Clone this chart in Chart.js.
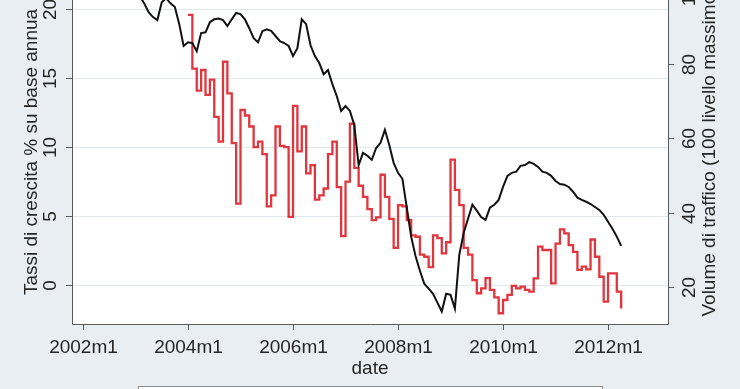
<!DOCTYPE html>
<html><head><meta charset="utf-8">
<script src="https://cdn.jsdelivr.net/npm/chart.js@4"></script>
<style>
html,body{margin:0;padding:0;background:#e8eef1;overflow:hidden;width:740px;height:389px;}
#wrap{position:absolute;left:0;top:-40px;width:740px;height:429px;}
</style></head><body>
<div id="wrap"><canvas id="c" width="740" height="429"></canvas></div>
<script>
// ---- data ----
const xTickLabels = ['2002m1','2004m1','2006m1','2008m1','2010m1','2012m1'];
const xTickMonths = [0, 24, 48, 72, 96, 120];      // months since 2002m1
const leftTicks = [0, 5, 10, 15, 20];
const rightTicks = [20, 40, 60, 80, 100];
const leftTitle = 'Tassi di crescita % su base annua';
const rightTitle = 'Volume di traffico (100 livello massimo)';
const xTitle = 'date';

// traffic volume index (right axis), monthly from 2003m1
const trafficStart = 12;
const traffic = [
 100.0, 98.3, 96.4, 94.0, 92.7, 91.9, 96.7, 97.8, 96.4, 95.4, 90.8, 84.9,
 85.9, 85.7, 83.5, 88.4, 88.6, 91.3, 92.1, 92.3, 91.9, 90.3, 92.1, 93.8,
 93.5, 92.1, 89.7, 87.0, 85.9, 88.9, 89.4, 89.0, 87.6, 86.2, 85.7, 84.9,
 82.2, 84.3, 92.1, 90.8, 85.1, 82.2, 80.3, 77.3, 78.4, 74.6, 71.4, 67.4,
 68.7, 67.4, 63.6, 52.8, 56.1, 55.3, 54.2, 57.4, 58.8, 62.3, 58.2, 53.4,
 50.7, 49.1, 41.3, 33.5, 28.3, 24.3, 20.8, 19.5, 18.1, 15.7, 13.3, 18.1,
 17.8, 14.1, 28.6, 34.5, 38.3, 42.1, 40.5, 38.8, 38.0, 41.3, 42.1, 43.4,
 46.9, 49.9, 50.7, 51.0, 52.6, 52.8, 53.6, 53.1, 52.3, 51.0, 50.7, 49.9,
 48.5, 47.7, 47.5, 46.9, 45.6, 44.0, 43.4, 42.9, 42.3, 41.5, 40.7, 39.4,
 37.5, 35.6, 33.5, 31.0
];

// annual growth rate % (left axis), monthly from 2004m1
const growthStart = 24;
const growth = [
 19.6, 15.7, 14.1, 15.6, 13.8, 14.9, 12.2, 10.4, 16.2, 13.9, 10.3, 5.9,
 12.7, 12.3, 11.5, 10.0, 10.4, 9.5, 5.7, 6.5, 11.5, 10.1, 10.0, 4.95,
 13.0, 9.7, 11.5, 8.1, 8.7, 6.2, 6.5, 7.0, 9.5, 10.4, 7.1, 3.55,
 7.5, 11.7, 8.5, 7.2, 6.4, 5.5, 4.7, 4.9, 8.0, 6.4, 4.8, 2.7,
 5.8, 5.7, 4.7, 3.6, 3.5, 2.2, 2.05, 1.3, 3.6, 3.4, 2.3, 3.1,
 9.1, 6.9, 5.8, 2.7, 2.2, 0.36, -0.6, -0.24, 0.5, -0.36, -0.9, -2.05,
 -1.09, -0.72, -0.07, -0.24, -0.12, -0.36, -0.48, 0.48, 2.78, 2.54, 2.54, 0.12,
 3.0, 4.04, 3.75, 2.9, 2.4, 1.09, 1.33, 1.14, 3.3, 2.05, 0.6, -1.2,
 0.85, 0.85, -0.48, -1.7
];

const trafficPts = traffic.map((v, i) => ({x: trafficStart + i, y: v}));
const growthPts = growth.map((v, i) => ({x: growthStart + i, y: v}));

const FONT = '19px "Liberation Sans", Arial, sans-serif';
const TXT = '#262626';

function rotText(ctx, t, x, y) {
  ctx.save(); ctx.translate(x, y); ctx.rotate(-Math.PI / 2);
  ctx.fillText(t, 0, 0); ctx.restore();
}

const stataPlugin = {
  id: 'stata',
  beforeDatasetsDraw(chart) {
    const {ctx, chartArea: a, scales} = chart;
    ctx.save();
    ctx.fillStyle = '#ffffff';
    ctx.fillRect(a.left, a.top, a.right - a.left, a.bottom - a.top);
    ctx.strokeStyle = '#e2e8eb'; ctx.lineWidth = 1.2;
    leftTicks.forEach(v => {
      const y = Math.round(scales.yL.getPixelForValue(v)) + 0.5;
      ctx.beginPath(); ctx.moveTo(a.left, y); ctx.lineTo(a.right, y); ctx.stroke();
    });
    ctx.restore();
  },
  afterDatasetsDraw(chart) {
    const {ctx, chartArea: a, scales} = chart;
    ctx.save();
    ctx.strokeStyle = '#5a5a5a'; ctx.lineWidth = 1;
    ctx.beginPath();
    ctx.moveTo(a.left + 0.5, a.top); ctx.lineTo(a.left + 0.5, a.bottom + 0.5);
    ctx.lineTo(a.right + 0.5, a.bottom + 0.5); ctx.lineTo(a.right + 0.5, a.top);
    ctx.stroke();
    ctx.fillStyle = TXT; ctx.font = FONT;
    ctx.textAlign = 'center'; ctx.textBaseline = 'middle';
    leftTicks.forEach(v => {
      const y = Math.round(scales.yL.getPixelForValue(v)) + 0.5;
      ctx.beginPath(); ctx.moveTo(a.left - 6, y); ctx.lineTo(a.left, y); ctx.stroke();
      rotText(ctx, String(v), a.left - 21, y);
    });
    rightTicks.forEach(v => {
      const y = Math.round(scales.yR.getPixelForValue(v)) + 0.5;
      ctx.beginPath(); ctx.moveTo(a.right, y); ctx.lineTo(a.right + 6, y); ctx.stroke();
      rotText(ctx, String(v), a.right + 22, y);
    });
    xTickMonths.forEach((m, i) => {
      const x = Math.round(scales.x.getPixelForValue(m)) + 0.5;
      ctx.beginPath(); ctx.moveTo(x, a.bottom); ctx.lineTo(x, a.bottom + 6); ctx.stroke();
      ctx.fillText(xTickLabels[i], x, a.bottom + 24);
    });
    const cy = (a.top + a.bottom) / 2;
    rotText(ctx, leftTitle, a.left - 40, cy);
    rotText(ctx, rightTitle, a.right + 42, cy);
    ctx.fillText(xTitle, (a.left + a.right) / 2, a.bottom + 45);
    ctx.fillStyle = '#ffffff'; ctx.strokeStyle = '#8c8c8c';
    ctx.fillRect(138, a.bottom + 62, 464, 60);
    ctx.strokeRect(138.5, a.bottom + 62.5, 464, 60);
    ctx.restore();
  }
};

const hide = {ticks: {display: false}, grid: {display: false}, border: {display: false}};

new Chart(document.getElementById('c'), {
  type: 'line',
  data: {
    datasets: [
      {label: 'Volume di traffico', data: trafficPts, yAxisID: 'yR',
       borderColor: '#111111', borderWidth: 2, pointRadius: 0, tension: 0, fill: false},
      {label: 'Tassi di crescita', data: growthPts, yAxisID: 'yL', stepped: 'before',
       borderColor: '#e0363e', borderWidth: 2.3, pointRadius: 0, fill: false},
      {label: 'Tassi di crescita (interno)', data: growthPts, yAxisID: 'yL', stepped: 'before',
       borderColor: '#f4bcbf', borderWidth: 0.9, pointRadius: 0, fill: false}
    ]
  },
  options: {
    responsive: false, animation: false, devicePixelRatio: 1,
    layout: {padding: {left: 72, right: 72, top: 20, bottom: 65}},
    plugins: {legend: {display: false}, tooltip: {enabled: false}},
    scales: {
      x: Object.assign({type: 'linear', min: -2.51, max: 133.7,
        afterFit(s) { s.height = 0; }}, hide),
      yL: Object.assign({type: 'linear', position: 'left', min: -2.83, max: 22.13,
        afterFit(s) { s.width = 0; }}, hide),
      yR: Object.assign({type: 'linear', position: 'right', min: 9.94, max: 102.7,
        afterFit(s) { s.width = 0; }}, hide)
    }
  },
  plugins: [stataPlugin]
});
</script>
</body></html>
